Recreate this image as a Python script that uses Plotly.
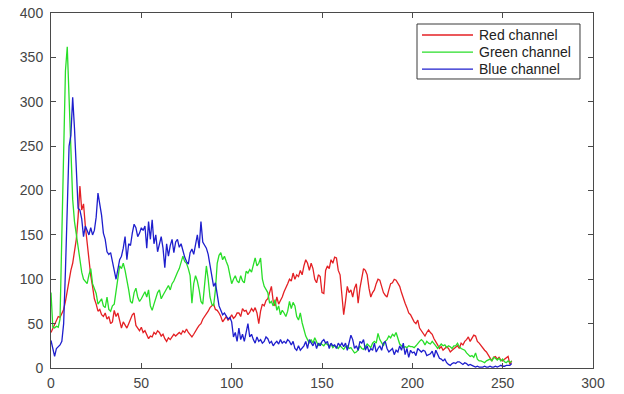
import plotly.graph_objects as go

# Intensity levels 0..255
levels = list(range(256))

red_counts = [
    40, 45, 50, 55, 58, 57, 62, 66, 75, 88, 99, 110, 118, 132, 145, 170,
    205, 178, 185, 160, 140, 118, 104, 92, 78, 72, 64, 66, 60, 58, 62, 55,
    58, 50, 52, 65, 58, 62, 55, 45, 52, 48, 45, 50, 55, 60, 62, 48,
    45, 42, 46, 40, 42, 38, 33, 36, 35, 40, 38, 42, 40, 36, 38, 33,
    30, 34, 32, 35, 38, 36, 38, 40, 38, 42, 40, 44, 40, 38, 35, 38,
    42, 45, 48, 50, 55, 58, 60, 64, 68, 70, 72, 66, 65, 62, 58, 52,
    55, 58, 54, 56, 60, 56, 58, 62, 62, 58, 67, 64, 65, 60, 63, 67,
    64, 68, 62, 50, 64, 72, 70, 76, 78, 85, 92, 75, 70, 80, 72, 76,
    80, 86, 90, 95, 100, 98, 107, 100, 105, 103, 110, 105, 115, 122, 118, 110,
    118, 112, 100, 96, 105, 103, 85, 84, 110, 115, 112, 122, 118, 125, 124, 110,
    105, 80, 60, 75, 92, 85, 88, 80, 90, 95, 73, 90, 103, 112, 110, 105,
    90, 80, 85, 88, 95, 100, 99, 92, 85, 82, 80, 88, 95, 96, 100, 99,
    95, 92, 85, 78, 73, 68, 62, 60, 56, 52, 50, 54, 45, 42, 39, 36,
    40, 43, 40, 38, 33, 30, 26, 22, 24, 20, 22, 24, 22, 18, 20, 22,
    24, 25, 22, 28, 26, 30, 32, 35, 30, 34, 37, 36, 30, 28, 25, 22,
    20, 18, 15, 11, 8, 12, 13, 10, 12, 9, 8, 10, 12, 13, 4, 8,
]

green_counts = [
    85, 46, 45, 47, 46, 55, 150, 250, 335, 362, 300, 230, 190, 165, 150, 135,
    120, 108, 100, 98, 95, 105, 112, 95, 88, 84, 72, 75, 78, 70, 68, 80,
    66, 64, 70, 72, 88, 105, 115, 112, 118, 110, 100, 88, 75, 73, 85, 90,
    80, 75, 78, 82, 86, 80, 88, 70, 65, 72, 80, 85, 88, 78, 82, 86,
    90, 93, 88, 95, 98, 104, 108, 112, 118, 126, 120, 118, 112, 104, 73, 95,
    104, 98, 88, 75, 72, 95, 115, 100, 80, 72, 70, 88, 118, 127, 130, 122,
    126, 120, 115, 105, 95, 100, 104, 98, 96, 104, 98, 96, 109, 107, 111, 108,
    118, 124, 115, 118, 124, 100, 92, 88, 85, 73, 75, 70, 77, 65, 70, 60,
    65, 62, 58, 64, 75, 67, 74, 70, 58, 54, 62, 51, 43, 36, 32, 28,
    32, 28, 34, 30, 25, 28, 26, 25, 28, 26, 25, 27, 23, 25, 24, 22,
    25, 23, 21, 24, 25, 22, 23, 20, 17, 18, 20, 25, 22, 21, 24, 27,
    25, 23, 28, 30, 28, 39, 32, 28, 25, 30, 32, 36, 34, 38, 36, 40,
    32, 27, 25, 23, 24, 23, 25, 24, 24, 23, 25, 28, 30, 32, 30, 26,
    30, 28, 27, 30, 28, 25, 22, 24, 27, 25, 26, 23, 25, 24, 22, 25,
    25, 28, 24, 22, 21, 20, 17, 15, 13, 14, 12, 17, 10, 8, 8, 7,
    6, 8, 9, 10, 8, 12, 11, 9, 11, 8, 10, 7, 6, 8, 6, 8,
]

blue_counts = [
    31, 20, 13, 22, 24, 26, 30, 50, 110, 190, 250, 262, 305, 270, 220, 180,
    178, 168, 148, 160, 155, 150, 158, 150, 155, 170, 197, 185, 172, 152, 145, 131,
    128, 130, 118, 110, 100, 112, 122, 126, 135, 148, 122, 140, 138, 152, 162, 158,
    148, 152, 158, 155, 160, 135, 165, 145, 167, 140, 150, 131, 140, 148, 135, 113,
    140, 126, 138, 145, 130, 142, 145, 136, 140, 132, 125, 120, 117, 130, 134, 128,
    140, 150, 135, 165, 142, 138, 135, 128, 116, 105, 92, 96, 80, 70, 65, 60,
    62, 58, 55, 57, 52, 35, 40, 30, 45, 32, 38, 30, 42, 50, 35, 38,
    32, 28, 35, 30, 32, 28, 30, 35, 33, 28, 30, 25, 28, 30, 27, 32,
    28, 30, 28, 32, 30, 26, 30, 22, 20, 25, 20, 22, 25, 30, 22, 32,
    28, 25, 30, 22, 28, 25, 30, 32, 28, 30, 22, 28, 25, 26, 22, 28,
    25, 28, 24, 28, 20, 30, 37, 32, 22, 25, 20, 30, 28, 32, 20, 25,
    18, 22, 20, 28, 18, 22, 25, 20, 28, 30, 22, 18, 20, 22, 15, 20,
    18, 25, 20, 28, 15, 22, 12, 20, 17, 18, 14, 22, 20, 18, 20, 19,
    14, 15, 16, 19, 12, 20, 15, 11, 10, 8, 10, 6, 4, 3, 5, 6,
    5, 7, 7, 5, 4, 6, 5, 3, 4, 3, 2, 1, 2, 1, 1, 1,
    2, 1, 1, 2, 1, 1, 2, 1, 2, 3, 2, 2, 3, 3, 3, 5,
]

series_names = ["Red channel", "Green channel", "Blue channel"]
series_colors = ["rgb(228,32,36)", "rgb(40,222,40)", "rgb(30,30,205)"]
x_ticks = [0, 50, 100, 150, 200, 250, 300]
y_ticks = [0, 50, 100, 150, 200, 250, 300, 350, 400]

FONT = "Liberation Sans, Arial, sans-serif"

fig = go.Figure()
for name, counts, color in zip(series_names, [red_counts, green_counts, blue_counts], series_colors):
    fig.add_trace(go.Scatter(
        x=levels, y=counts, mode="lines", name=name, showlegend=False,
        line=dict(color=color, width=1.3),
    ))

axis_style = dict(
    showline=True, linecolor="#4a4a4a", linewidth=1,
    mirror="ticks", ticks="inside", ticklen=5, tickcolor="#4a4a4a",
    showgrid=False, zeroline=False, automargin=False,
    tickfont=dict(family=FONT, size=14, color="#454545"),
)

fig.update_xaxes(range=[0, 300], tickvals=x_ticks, ticklabelstandoff=2, **axis_style)
fig.update_yaxes(range=[0, 400], tickvals=y_ticks, ticklabelstandoff=4, **axis_style)

# Boxed legend in the upper-right corner of the axes (paper coordinates)
box_x0, box_x1 = 0.6753, 0.976
box_y0, box_y1 = 0.8141, 0.969
sample_x0, sample_x1 = 0.6845, 0.7786
label_x = 0.786
row_y = [0.938, 0.890, 0.842]

shapes = [dict(type="rect", xref="paper", yref="paper",
               x0=box_x0, x1=box_x1, y0=box_y0, y1=box_y1,
               line=dict(color="#3a3a3a", width=1), fillcolor="white", layer="above")]
annotations = []
for name, color, yy in zip(series_names, series_colors, row_y):
    shapes.append(dict(type="line", xref="paper", yref="paper",
                       x0=sample_x0, x1=sample_x1, y0=yy, y1=yy,
                       line=dict(color=color, width=1.3), layer="above"))
    annotations.append(dict(xref="paper", yref="paper", x=label_x, y=yy,
                            xanchor="left", yanchor="middle", showarrow=False,
                            text=name, font=dict(family=FONT, size=14, color="#222222")))

fig.update_layout(
    width=624, height=394,
    margin=dict(l=51, r=31, t=13, b=26),
    paper_bgcolor="white", plot_bgcolor="white",
    shapes=shapes, annotations=annotations,
)

fig.write_html("out.html")
